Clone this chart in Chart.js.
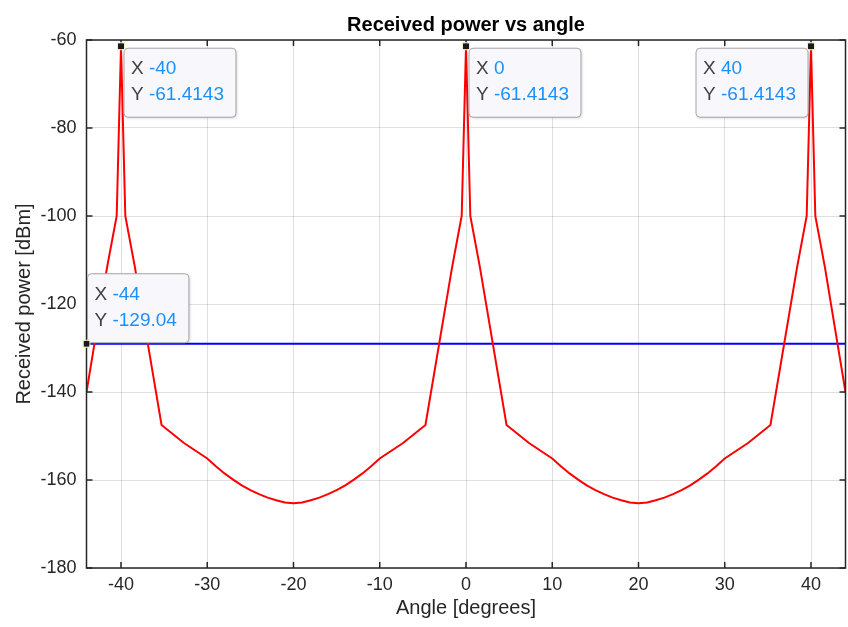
<!DOCTYPE html>
<html>
<head>
<meta charset="utf-8">
<script src="https://cdn.jsdelivr.net/npm/chart.js@4.4.1/dist/chart.umd.min.js"></script>
<style>
  body { margin: 0; background: #ffffff; }
  #wrap { width: 848px; height: 627px; }
</style>
</head>
<body>
<div id="wrap"><canvas id="powerChart" width="848" height="627"></canvas></div>
<script>
// angle sweep [deg] and received power [dBm]
const angleDeg = [
  -44, -41.6, -40.5, -40, -39.5, -38.4, -35.3, -32.7,
  -30, -29, -28, -27, -26, -25, -24, -23, -22, -21, -20,
  -19, -18, -17, -16, -15, -14, -13, -12, -11, -10,
  -7.3, -4.7, -1.6, -0.5, 0, 0.5, 1.6, 4.7, 7.3,
  10, 11, 12, 13, 14, 15, 16, 17, 18, 19, 20,
  21, 22, 23, 24, 25, 26, 27, 28, 29, 30,
  32.7, 35.3, 38.4, 39.5, 40, 40.5, 41.6, 44
];
const powerDbm = [
  -140, -111.5, -100, -61.4143, -100, -111.5, -147.5, -151.6,
  -155.1, -156.9, -158.5, -159.9, -161.2, -162.3, -163.2, -164.0, -164.6, -165.1, -165.3,
  -165.1, -164.6, -164.0, -163.2, -162.3, -161.2, -159.9, -158.5, -156.9, -155.1,
  -151.6, -147.5, -111.5, -100, -61.4143, -100, -111.5, -147.5, -151.6,
  -155.1, -156.9, -158.5, -159.9, -161.2, -162.3, -163.2, -164.0, -164.6, -165.1, -165.3,
  -165.1, -164.6, -164.0, -163.2, -162.3, -161.2, -159.9, -158.5, -156.9, -155.1,
  -151.6, -147.5, -111.5, -100, -61.4143, -100, -111.5, -140
];

// horizontal reference level
const levelDbm = -129.04;
const levelSpan = [-44, 44];

const xTicks = [-40, -30, -20, -10, 0, 10, 20, 30, 40];
const yTicks = [-180, -160, -140, -120, -100, -80, -60];

// data tips
const tipX = [-40, 0, 40, -44];
const tipY = [-61.4143, -61.4143, -61.4143, -129.04];
const tipLabelX = ['-40', '0', '40', '-44'];
const tipLabelY = ['-61.4143', '-61.4143', '-61.4143', '-129.04'];
const tipSide = ['below-right', 'below-right', 'below-left', 'above-right'];

const FONT = '"Liberation Sans", Arial, sans-serif';
const AXIS_COLOR = '#262626';

const roundRect = (ctx, x, y, w, h, r) => {
    ctx.beginPath();
    ctx.moveTo(x + r, y);
    ctx.lineTo(x + w - r, y);
    ctx.quadraticCurveTo(x + w, y, x + w, y + r);
    ctx.lineTo(x + w, y + h - r);
    ctx.quadraticCurveTo(x + w, y + h, x + w - r, y + h);
    ctx.lineTo(x + r, y + h);
    ctx.quadraticCurveTo(x, y + h, x, y + h - r);
    ctx.lineTo(x, y + r);
    ctx.quadraticCurveTo(x, y, x + r, y);
    ctx.closePath();
};

const matlabLook = {
    id: 'matlabLook',
    afterDraw(chart) {
        const ctx = chart.ctx;
        const area = chart.chartArea;
        const xs = chart.scales.x;
        const ys = chart.scales.y;
        const cx = (area.left + area.right) / 2;

        ctx.save();

        // axes box + inward ticks
        ctx.strokeStyle = AXIS_COLOR;
        ctx.lineWidth = 1.5;
        ctx.strokeRect(area.left, area.top, area.right - area.left, area.bottom - area.top);
        ctx.beginPath();
        xTicks.forEach(v => {
            const px = xs.getPixelForValue(v);
            ctx.moveTo(px, area.bottom); ctx.lineTo(px, area.bottom - 6);
            ctx.moveTo(px, area.top); ctx.lineTo(px, area.top + 6);
        });
        yTicks.forEach(v => {
            const py = ys.getPixelForValue(v);
            ctx.moveTo(area.left, py); ctx.lineTo(area.left + 6, py);
            ctx.moveTo(area.right, py); ctx.lineTo(area.right - 6, py);
        });
        ctx.stroke();

        // titles
        ctx.fillStyle = '#000000';
        ctx.textAlign = 'center';
        ctx.textBaseline = 'middle';
        ctx.font = 'bold 20px ' + FONT;
        ctx.fillText('Received power vs angle', cx, 25);

        ctx.fillStyle = AXIS_COLOR;
        ctx.font = '20px ' + FONT;
        ctx.fillText('Angle [degrees]', cx, 608);

        ctx.save();
        ctx.translate(24, (area.top + area.bottom) / 2);
        ctx.rotate(-Math.PI / 2);
        ctx.fillText('Received power [dBm]', 0, 0);
        ctx.restore();

        // data tips
        ctx.font = '19px ' + FONT;
        ctx.textAlign = 'left';
        tipX.forEach((v, i) => {
            const px = xs.getPixelForValue(v);
            const py = ys.getPixelForValue(tipY[i]);
            const prefixW = ctx.measureText('X ').width;
            const textW = Math.max(
                ctx.measureText('X ' + tipLabelX[i]).width,
                ctx.measureText('Y ' + tipLabelY[i]).width
            );
            const w = textW + 19;
            const h = 69;
            let left = px + 3;
            let top = py + 2;
            if (tipSide[i] === 'below-left') left = px - 3 - w;
            if (tipSide[i] === 'above-right') { left = px + 1; top = py - 1 - h; }

            ctx.save();
            ctx.shadowColor = 'rgba(0,0,0,0.18)';
            ctx.shadowBlur = 3;
            ctx.shadowOffsetX = 1;
            ctx.shadowOffsetY = 1;
            roundRect(ctx, left, top, w, h, 4);
            ctx.fillStyle = '#f7f7fc';
            ctx.fill();
            ctx.restore();
            roundRect(ctx, left, top, w, h, 4);
            ctx.strokeStyle = '#a6a6a6';
            ctx.lineWidth = 1;
            ctx.stroke();

            ctx.fillStyle = '#404040';
            ctx.fillText('X', left + 7, top + 21);
            ctx.fillText('Y', left + 7, top + 47);
            ctx.fillStyle = '#1a90ff';
            ctx.fillText(tipLabelX[i], left + 7 + prefixW, top + 21);
            ctx.fillText(tipLabelY[i], left + 7 + prefixW, top + 47);

            // marker
            ctx.fillStyle = '#1a1a1a';
            ctx.strokeStyle = '#f3efc8';
            ctx.lineWidth = 1;
            ctx.fillRect(px - 3, py - 3, 6, 6);
            ctx.strokeRect(px - 3.5, py - 3.5, 7, 7);
        });

        ctx.restore();
    }
};

const ctx = document.getElementById('powerChart');

new Chart(ctx, {
    type: 'line',
    data: {
        datasets: [
            {
                label: 'Received power',
                data: angleDeg.map((a, i) => ({ x: a, y: powerDbm[i] })),
                borderColor: '#ff0000',
                borderWidth: 2,
                pointRadius: 0,
                fill: false,
            },
            {
                label: 'Level',
                data: levelSpan.map(a => ({ x: a, y: levelDbm })),
                borderColor: '#0000ff',
                borderWidth: 2,
                pointRadius: 0,
                fill: false,
            },
        ],
    },
    options: {
        responsive: false,
        animation: false,
        layout: { padding: { top: 40, right: 2.5, bottom: 0, left: 0 } },
        plugins: {
            legend: { display: false },
            tooltip: { enabled: false },
            title: { display: false },
        },
        scales: {
            x: {
                type: 'linear',
                min: -44,
                max: 44,
                afterBuildTicks: s => { s.ticks = xTicks.map(v => ({ value: v })); },
                afterFit: s => { s.height = 59; },
                ticks: {
                    color: AXIS_COLOR,
                    font: { family: FONT, size: 18 },
                    padding: 6,
                    maxRotation: 0,
                    autoSkip: false,
                },
                grid: { color: 'rgba(38,38,38,0.15)', drawTicks: false },
                border: { display: false },
            },
            y: {
                type: 'linear',
                min: -180,
                max: -60,
                afterBuildTicks: s => { s.ticks = yTicks.map(v => ({ value: v })); },
                afterFit: s => { s.width = 86.5; },
                ticks: {
                    color: AXIS_COLOR,
                    font: { family: FONT, size: 18 },
                    padding: 10,
                    autoSkip: false,
                },
                grid: { color: 'rgba(38,38,38,0.15)', drawTicks: false },
                border: { display: false },
            },
        },
    },
    plugins: [matlabLook],
});
</script>
</body>
</html>
